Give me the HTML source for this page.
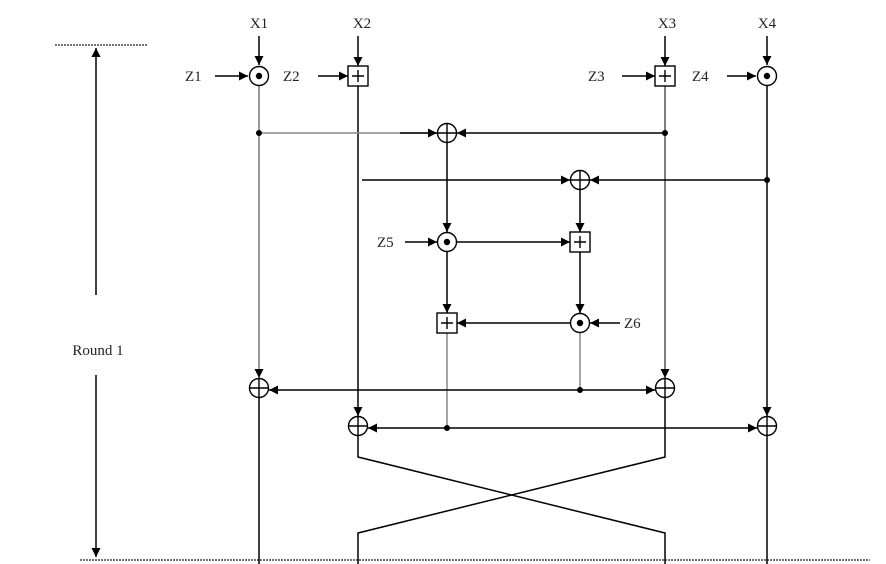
<!DOCTYPE html>
<html><head><meta charset="utf-8"><style>
html,body{margin:0;padding:0;background:#fff}
svg{display:block}
text{font-family:"Liberation Serif",serif;font-size:15px;fill:#222}
</style></head><body>
<svg width="886" height="564" viewBox="0 0 886 564">
<defs>
<marker id="ah" viewBox="0 0 10 10" refX="10" refY="5" markerWidth="9" markerHeight="9" markerUnits="userSpaceOnUse" orient="auto"><path d="M0,0L10,5L0,10z" fill="#000"/></marker>
</defs>
<g stroke="#000" stroke-width="1.5" fill="none">
<!-- round boundaries -->
<line x1="55" y1="45" x2="148" y2="45" stroke-dasharray="2,1" stroke="#444"/>
<line x1="80" y1="560" x2="870" y2="560" stroke-dasharray="2,1" stroke="#444"/>
<line x1="96" y1="295" x2="96" y2="48" marker-end="url(#ah)"/>
<line x1="96" y1="375" x2="96" y2="557" marker-end="url(#ah)"/>
<!-- inputs -->
<line x1="259" y1="36" x2="259" y2="65" marker-end="url(#ah)"/>
<line x1="358" y1="36" x2="358" y2="66" marker-end="url(#ah)"/>
<line x1="665" y1="36" x2="665" y2="66" marker-end="url(#ah)"/>
<line x1="767" y1="36" x2="767" y2="65" marker-end="url(#ah)"/>
<line x1="215" y1="76" x2="248" y2="76" marker-end="url(#ah)"/>
<line x1="318" y1="76" x2="348" y2="76" marker-end="url(#ah)"/>
<line x1="622" y1="76" x2="655" y2="76" marker-end="url(#ah)"/>
<line x1="727" y1="76" x2="756" y2="76" marker-end="url(#ah)"/>
<!-- main verticals -->
<line x1="259" y1="86" x2="259" y2="378" stroke="#777" marker-end="url(#ah)"/>
<line x1="358" y1="86" x2="358" y2="416" marker-end="url(#ah)"/>
<line x1="665" y1="86" x2="665" y2="378" stroke="#555" marker-end="url(#ah)"/>
<line x1="767" y1="86" x2="767" y2="416" marker-end="url(#ah)"/>
<!-- xor 1 -->
<line x1="259" y1="133" x2="437" y2="133" stroke="#888"/>
<line x1="400" y1="133" x2="437" y2="133" marker-end="url(#ah)"/>
<line x1="665" y1="133" x2="457" y2="133" marker-end="url(#ah)"/>
<line x1="447" y1="143" x2="447" y2="232" marker-end="url(#ah)"/>
<!-- xor 2 -->
<line x1="362" y1="180" x2="570" y2="180" marker-end="url(#ah)"/>
<line x1="767" y1="180" x2="590" y2="180" marker-end="url(#ah)"/>
<line x1="580" y1="190" x2="580" y2="232" marker-end="url(#ah)"/>
<!-- MA structure -->
<line x1="405" y1="242" x2="437" y2="242" marker-end="url(#ah)"/>
<line x1="457" y1="242" x2="570" y2="242" marker-end="url(#ah)"/>
<line x1="447" y1="252" x2="447" y2="313" marker-end="url(#ah)"/>
<line x1="580" y1="252" x2="580" y2="313" marker-end="url(#ah)"/>
<line x1="570" y1="323" x2="457" y2="323" marker-end="url(#ah)"/>
<line x1="620" y1="323" x2="590" y2="323" marker-end="url(#ah)"/>
<line x1="580" y1="333" x2="580" y2="390" stroke="#888"/>
<line x1="447" y1="333" x2="447" y2="428" stroke="#888"/>
<!-- bottom xors -->
<line x1="440" y1="390" x2="269" y2="390" marker-end="url(#ah)"/>
<line x1="440" y1="390" x2="655" y2="390" marker-end="url(#ah)"/>
<line x1="600" y1="428" x2="368" y2="428" marker-end="url(#ah)"/>
<line x1="600" y1="428" x2="757" y2="428" marker-end="url(#ah)"/>
<!-- outputs and swap -->
<line x1="259" y1="398" x2="259" y2="564"/>
<line x1="767" y1="436" x2="767" y2="564"/>
<polyline points="358,436 358,457 665,533 665,564"/>
<polyline points="665,398 665,457 358,533 358,564"/>
</g>
<!-- junction dots -->
<g fill="#000">
<circle cx="259" cy="133" r="3"/><circle cx="665" cy="133" r="3"/>
<circle cx="767" cy="180" r="3"/><circle cx="580" cy="390" r="3"/><circle cx="447" cy="428" r="3"/>
</g>
<!-- operators -->
<g stroke="#000" stroke-width="1.4" fill="#fff">
<g><circle cx="259" cy="76" r="9.5"/><circle cx="259" cy="76" r="2.5" fill="#000"/></g>
<g><circle cx="767" cy="76" r="9.5"/><circle cx="767" cy="76" r="2.5" fill="#000"/></g>
<g><circle cx="447" cy="242" r="9.5"/><circle cx="447" cy="242" r="2.5" fill="#000"/></g>
<g><circle cx="580" cy="323" r="9.5"/><circle cx="580" cy="323" r="2.5" fill="#000"/></g>
<g><rect x="348" y="66" width="20" height="20"/><path d="M352,76H364M358,70V82"/></g>
<g><rect x="655" y="66" width="20" height="20"/><path d="M659,76H671M665,70V82"/></g>
<g><rect x="570" y="232" width="20" height="20"/><path d="M574,242H586M580,236V248"/></g>
<g><rect x="437" y="313" width="20" height="20"/><path d="M441,323H453M447,317V329"/></g>
<g><circle cx="447" cy="133" r="9.5"/><path d="M438,133H456M447,124V142"/></g>
<g><circle cx="580" cy="180" r="9.5"/><path d="M571,180H589M580,171V189"/></g>
<g><circle cx="259" cy="388" r="9.5"/><path d="M250,388H268M259,379V397"/></g>
<g><circle cx="665" cy="388" r="9.5"/><path d="M656,388H674M665,379V397"/></g>
<g><circle cx="358" cy="426" r="9.5"/><path d="M349,426H367M358,417V435"/></g>
<g><circle cx="767" cy="426" r="9.5"/><path d="M758,426H776M767,417V435"/></g>
</g>
<!-- labels -->
<text x="259" y="28" text-anchor="middle">X1</text>
<text x="362" y="28" text-anchor="middle">X2</text>
<text x="667" y="28" text-anchor="middle">X3</text>
<text x="767" y="28" text-anchor="middle">X4</text>
<text x="185" y="81">Z1</text>
<text x="283" y="81">Z2</text>
<text x="588" y="81">Z3</text>
<text x="692" y="81">Z4</text>
<text x="377" y="247">Z5</text>
<text x="624" y="328">Z6</text>
<text x="98" y="355" text-anchor="middle">Round 1</text>
</svg>
</body></html>
